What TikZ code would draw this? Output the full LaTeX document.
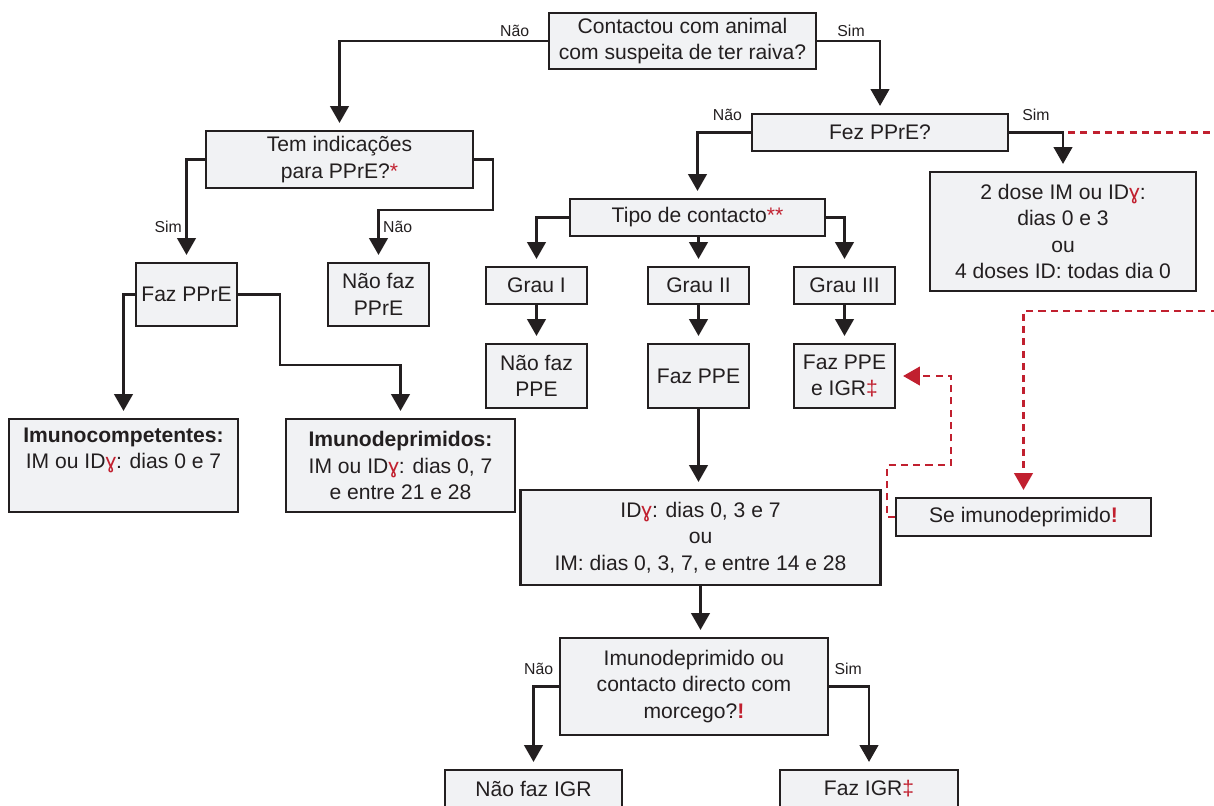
\documentclass[tikz,border=0pt]{standalone}
\usepackage{fontspec}
\setmainfont{Liberation Sans}
\usetikzlibrary{arrows.meta,calc}
\definecolor{rabink}{HTML}{231F20}
\definecolor{rabfill}{HTML}{F1F2F4}
\definecolor{rabred}{HTML}{C1202F}
\newcommand{\rabfont}{\linespread{1}\fontsize{12}{15}\selectfont}
\newcommand{\rabsmallfont}{\linespread{1}\fontsize{9}{11}\selectfont}
\newcommand{\redg}{\textcolor{rabred}{ɣ}}
\newcommand{\redmark}[1]{\textcolor{rabred}{#1}}
\tikzset{
    rab/chart/.style={font=\rabfont, color=rabink, every node/.style={align=center}},
    rab/box/.style={rectangle, draw=rabink, fill=rabfill, line width=1.2pt, inner sep=0pt},
    rab/size/.style 2 args={minimum width=#1cm, minimum height=#2cm},
    rab/arrow/.style={-{Triangle[width=10.5pt,length=9.5pt]}, line width=1.3pt, draw=rabink, shorten >=4pt},
    rab/dash/.style={line width=1.3pt, draw=rabred, dash pattern=on 4pt off 3pt},
    rab/dasharrow/.style={rab/dash, -{Triangle[width=10.5pt,length=9.5pt]}, shorten >=4pt},
    rab/label/.style={font=\rabsmallfont, inner sep=2pt}
}
\begin{document}
\begin{tikzpicture}[rab/chart]
    \useasboundingbox (0,0) rectangle (24.28,-16.1);
    \node[rab/box,rab/size={5.34}{1.12}] (q1) at (13.65,-0.82) {Contactou com animal\\com suspeita de ter raiva?};
    \node[rab/box,rab/size={5.34}{1.14}] (indic) at (6.79,-3.19) {Tem indicações\\para PPrE?\redmark{*}};
    \node[rab/box,rab/size={2.02}{1.26}] (fazpre) at (3.73,-5.89) {Faz PPrE};
    \node[rab/box,rab/size={2.02}{1.26}] (naopre) at (7.57,-5.89) {Não faz\\PPrE};
    \node[rab/box,rab/size={4.58}{1.86}] (imcomp) at (2.47,-9.31) {\textbf{Imunocompetentes:}\\IM ou ID\redg: dias 0 e 7\\\strut};
    \node[rab/box,rab/size={4.58}{1.86}] (imdep) at (8.01,-9.31) {\textbf{Imunodeprimidos:}\\IM ou ID\redg: dias 0, 7\\e entre 21 e 28};
    \node[rab/box,rab/size={5.12}{0.74}] (fez) at (17.6,-2.65) {Fez PPrE?};
    \node[rab/box,rab/size={5.32}{2.38}] (doses) at (21.26,-4.63) {2 dose IM ou ID\redg:\\dias 0 e 3\\ou\\4 doses ID: todas dia 0};
    \node[rab/box,rab/size={5.1}{0.74}] (tipo) at (13.95,-4.35) {Tipo de contacto\redmark{**}};
    \node[rab/box,rab/size={2.02}{0.74}] (grau1) at (10.73,-5.71) {Grau I};
    \node[rab/box,rab/size={2.02}{0.74}] (grau2) at (13.97,-5.71) {Grau II};
    \node[rab/box,rab/size={2.02}{0.74}] (grau3) at (16.89,-5.71) {Grau III};
    \node[rab/box,rab/size={2.02}{1.28}] (naoppe) at (10.73,-7.52) {Não faz\\PPE};
    \node[rab/box,rab/size={2.02}{1.28}] (fazppe) at (13.97,-7.52) {Faz PPE};
    \node[rab/box,rab/size={2.02}{1.28}] (ppeigr) at (16.89,-7.52) {Faz PPE\\e IGR\redmark{‡}};
    \node[rab/box,rab/size={7.2}{1.9}] (esquema) at (14.01,-10.75) {ID\redg: dias 0, 3 e 7\\ou\\IM: dias 0, 3, 7, e entre 14 e 28};
    \node[rab/box,rab/size={5.1}{0.76}] (seimuno) at (20.47,-10.34) {Se imunodeprimido\redmark{\textbf{!}}};
    \node[rab/box,rab/size={5.36}{1.94}] (q3) at (13.88,-13.73) {Imunodeprimido ou\\contacto directo com\\morcego?\redmark{\textbf{!}}};
    \node[rab/box,rab/size={3.54}{0.76}] (naoigr) at (10.67,-15.78) {Não faz IGR};
    \node[rab/box,rab/size={3.56}{0.76}] (fazigr) at (17.38,-15.78) {Faz IGR\redmark{‡}};
    \coordinate (indicr) at (9.86,-4.2);
    \coordinate (prer) at (5.6,-7.3);
    \coordinate (sel) at (17.74,-9.3);
    \coordinate (ser) at (19.02,-7.52);
    \coordinate (outa) at (24.6,-2.65);
    \coordinate (outb) at (24.6,-6.22);
    \draw[rab/arrow] (q1.west) -| node[rab/label,pos=0.08,above] {Não} (indic.north);
    \draw[rab/arrow] (q1.east) -| node[rab/label,pos=0.27,above] {Sim} (fez.north);
    \draw[rab/arrow] (indic.west) -| node[rab/label,pos=0.83,left] {Sim} (fazpre.north);
    \draw[rab/arrow] (indic.east) -| (indicr) -| node[rab/label,pos=0.66,right] {Não} (naopre.north);
    \draw[rab/arrow] (fazpre.west) -| (imcomp.north);
    \draw[rab/arrow] (fazpre.east) -| (prer) -| (imdep.north);
    \draw[rab/arrow] (fez.west) -| node[rab/label,pos=0.22,above=4pt] {Não} (tipo.north);
    \draw[rab/arrow] (fez.east) -| node[rab/label,pos=0.25,above=4pt] {Sim} (doses.north);
    \draw[rab/arrow] (tipo.west) -| (grau1.north);
    \draw[rab/arrow] (tipo.south -| grau2.north) -- (grau2.north);
    \draw[rab/arrow] (tipo.east) -| (grau3.north);
    \foreach \source/\target in {grau1/naoppe,grau2/fazppe,grau3/ppeigr}
        \draw[rab/arrow] (\source) -- (\target);
    \draw[rab/arrow] (fazppe.south) -- (fazppe.south |- esquema.north);
    \draw[rab/arrow] (esquema.south) -- (esquema.south |- q3.north);
    \draw[rab/arrow] (q3.west) -| node[rab/label,pos=0.4,above=4pt] {Não} (naoigr.north);
    \draw[rab/arrow] (q3.east) -| node[rab/label,pos=0.24,above=4pt] {Sim} (fazigr.north);
    \draw[rab/dash] ($(fez.east -| doses.north)+(0.1,0)$) -- (outa);
    \draw[rab/dasharrow] (outb) -| (seimuno.north);
    \draw[rab/dasharrow] (seimuno.west) -| (sel) -| (ser) -- (ppeigr.east);
\end{tikzpicture}
\end{document}
